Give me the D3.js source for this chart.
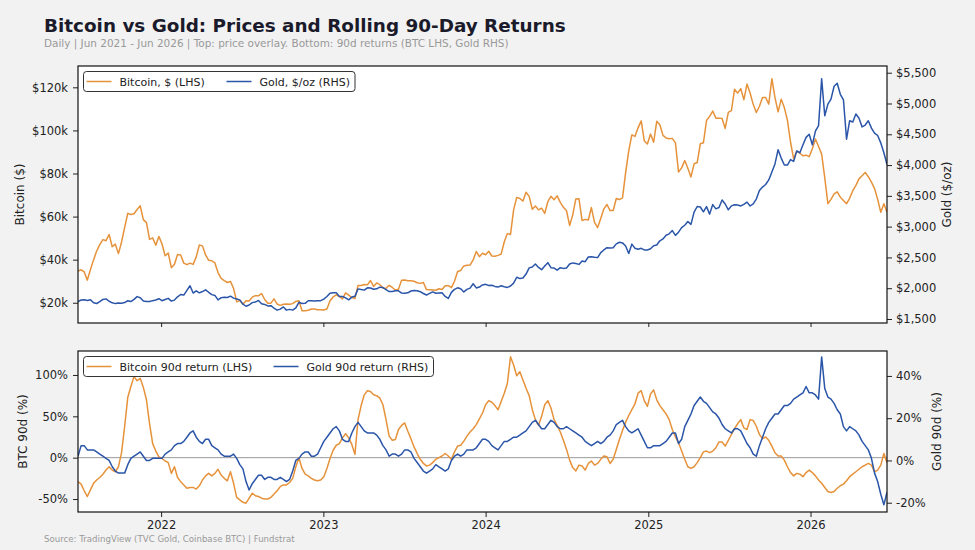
<!DOCTYPE html>
<html><head><meta charset="utf-8">
<script src="https://cdn.jsdelivr.net/npm/d3@7"></script>
<style>
body{margin:0;background:#f2f2f2;}
svg{display:block;font-family:"DejaVu Sans",sans-serif;}
</style></head><body>
<svg id="c" width="975" height="550"></svg>
<script>
// ---------------- DATA (weekly samples) ----------------
const startDate = "2021-06-28";   // first weekly sample, step = 7 days
const btcPriceK = [
34.7,35.3,34.3,30.5,35.4,39.9,44.0,47.0,49.3,48.8,51.7,46.0,47.2,42.8,48.2,55.0,61.5,61.0,61.3,63.3,65.0,58.6,57.2,49.4,50.1,46.7,50.8,
47.3,41.8,43.1,36.3,37.9,42.4,42.2,38.4,37.7,38.4,37.8,41.3,46.8,46.4,42.2,39.7,39.5,38.5,34.0,31.3,30.3,29.4,29.9,26.6,20.5,21.0,19.3,20.9,20.8,22.6,23.3,23.2,24.3,21.5,19.8,19.8,21.8,19.4,18.8,19.3,19.4,19.3,19.6,20.6,20.9,16.3,16.3,16.5,17.1,17.1,16.8,16.8,
16.6,17.1,20.9,22.7,23.7,22.9,21.8,24.6,23.5,22.4,22.0,28.0,28.0,28.5,28.3,30.3,27.6,29.2,28.4,26.9,26.7,28.1,27.1,25.9,26.3,30.5,30.6,30.2,30.2,30.0,29.3,29.0,29.4,26.1,26.0,25.9,25.8,26.5,26.2,27.9,27.9,27.0,30.0,34.5,35.0,37.1,37.4,37.5,39.9,43.8,41.4,43.0,42.3,
43.9,41.7,41.6,42.0,42.6,48.3,52.1,51.7,63.1,68.9,68.4,67.2,71.3,69.4,63.4,64.9,63.1,63.9,61.5,66.9,69.4,67.8,69.6,66.6,64.3,62.7,55.9,60.8,68.2,68.3,58.2,58.7,58.4,64.2,57.3,54.9,59.1,63.6,65.6,62.8,62.8,68.4,67.9,68.7,80.4,90.5,97.9,97.2,101.2,104.4,95.1,93.7,
98.3,94.5,104.2,102.6,97.7,96.5,96.1,96.3,94.2,80.7,82.6,86.0,82.4,78.4,84.5,85.1,93.8,94.3,104.6,106.5,109.0,105.7,105.7,105.5,100.9,108.4,109.2,119.1,117.3,119.4,114.2,121.5,117.4,112.1,108.3,111.2,115.3,115.3,112.2,124.0,115.2,108.6,114.5,110.6,104.7,94.5,86.8,90.4,89.4,88.2,88.5,87.8,
91.5,96.0,92.5,89.0,78.0,66.0,68.0,70.5,71.5,69.0,67.5,66.0,68.5,72.0,74.5,77.5,79.0,80.5,78.5,76.0,73.0,68.0,62.0,66.0,62.0
];
const goldPrice = [
1781,1808,1812,1802,1814,1763,1752,1781,1818,1827,1788,1763,1750,1761,1757,1767,1796,1783,1818,1864,1846,1792,1783,1784,1798,1808,1829,
1797,1817,1835,1791,1807,1860,1898,1889,1966,2040,1921,1958,1925,1946,1974,1934,1896,1883,1811,1846,1853,1850,1871,1839,1826,1811,1742,1707,1727,1766,1775,1802,1747,1737,1712,1716,1675,1644,1660,1695,1644,1656,1644,1681,1771,1751,1754,1797,1797,1793,1798,1798,
1824,1865,1920,1926,1928,1865,1865,1842,1811,1856,1868,1989,1978,1969,2007,2004,1983,1990,2017,2011,1978,1946,1948,1960,1958,1921,1919,1925,1955,1962,1959,1943,1914,1889,1915,1940,1919,1924,1925,1866,1833,1932,1981,2006,1992,1940,1981,2002,2072,2005,2019,2053,2063,
2045,2049,2029,2018,2039,2024,2013,2035,2083,2178,2156,2165,2230,2330,2344,2392,2338,2301,2360,2415,2334,2327,2293,2333,2322,2327,2392,2411,2400,2387,2443,2431,2507,2512,2503,2497,2577,2621,2658,2653,2657,2720,2747,2736,2685,2563,2716,2650,2633,2648,2622,2621,
2640,2690,2702,2770,2800,2861,2883,2936,2858,2910,2984,3023,3084,3037,3236,3327,3319,3241,3325,3203,3358,3289,3310,3432,3368,3274,3337,3355,3350,3336,3363,3398,3335,3371,3447,3587,3643,3685,3759,3886,4018,4250,4113,4002,4000,4090,4060,4230,4200,4330,4450,4500,
4330,4550,4640,5400,4800,4990,5070,5280,5330,5150,5060,4420,4720,4700,4830,4760,4620,4650,4720,4600,4520,4480,4360,4200,4010
];
const btcRet90 = [
-29,-32,-40,-47,-39,-31,-27,-24,-20,-15,
-11,-15,-17,-11,6,38,73,86,98,93,
96,85,70,41,17,8,1,-1,-4,-6,
-19,-11,-24,-29,-33,-37,-36,-36,-38,-34,
-27,-22,-19,-22,-19,-14,-21,-25,-28,-17,
-31,-48,-51,-54,-55,-49,-43,-46,-47,-49,
-50,-50,-48,-44,-40,-35,-33,-33,-30,-25,
-11,0,-13,-20,-22,-25,-27,-28,-27,-23,
-13,-1,9,15,17,24,29,24,16,4,
46,63,76,81,80,76,75,72,64,46,
26,21,22,34,39,42,32,23,13,5,
-2,-7,-10,-9,-6,-2,0,2,5,2,
-2,7,14,15,20,26,31,35,40,47,
54,64,69,67,63,58,68,78,90,122,
112,99,104,94,84,75,58,46,39,50,
64,69,60,46,39,31,21,10,-3,-12,
-16,-9,-10,-15,-7,-4,-9,-7,-2,2,
1,-7,-2,10,22,33,43,51,58,65,
78,81,69,62,77,82,70,63,58,53,
46,34,25,18,8,-2,-11,-13,-11,-6,
0,7,8,6,8,12,19,19,14,21,
28,35,41,46,36,34,46,45,38,28,
23,25,21,14,6,2,2,-3,-11,-18,
-22,-19,-20,-23,-18,-15,-18,-22,-27,-31,
-36,-41,-42,-41,-37,-34,-32,-28,-23,-20,
-17,-14,-11,-9,-7,-9,-17,-15,-9,5,-6
];
const goldRet90 = [
2,7,7,5,5,5,4,3,2,1,
0,-3,-5,-6,-6,-6,-2,1,2,3,
4,2,0,0,1,1,1,1,3,4,
5,7,8,8,9,11,13,14,11,9,
8,10,10,7,6,5,3,2,2,2,
3,1,-2,-4,-10,-14,-11,-9,-7,-7,
-9,-8,-8,-9,-9,-8,-9,-10,-9,-5,
0,1,3,4,4,2,2,3,6,9,
11,13,15,16,14,10,9,9,13,16,
18,16,14,13,13,13,12,10,7,5,
2,3,3,2,3,5,5,4,1,-1,
-3,-5,-6,-5,-4,-2,-3,-4,-5,-4,
0,2,3,2,3,5,5,5,6,8,
10,10,9,7,6,5,7,9,9,10,
11,11,12,13,14,16,18,19,17,15,
15,17,19,18,16,15,15,16,15,14,
13,12,11,9,8,7,8,9,8,9,
11,12,14,17,18,19,16,14,13,14,
15,12,9,6,6,7,7,7,8,9,
11,13,13,8,10,16,19,22,26,28,
30,28,27,25,23,22,20,17,15,14,
13,15,15,14,11,8,6,3,2,7,
11,15,18,20,22,22,24,26,26,27,
29,30,31,32,35,32,32,31,29,49,
34,30,29,27,24,22,16,14,16,15,
14,12,9,7,5,1,-6,-10,-16,-21,-15
];
const yearTicks = ["2022-01-01","2023-01-01","2024-01-01","2025-01-01","2026-01-01"];
const btcPriceTicks = [20,40,60,80,100,120];
const goldPriceTicks = [1500,2000,2500,3000,3500,4000,4500,5000,5500];
const btcRetTicks = [-50,0,50,100];
const goldRetTicks = [-20,0,20,40];

// ---------------- STYLE / LAYOUT ----------------
const C_BTC = "#e6923a", C_GOLD = "#2a55a8";
const L = 78, R = 887;
const P1 = {t:66, b:323}, P2 = {t:351, b:512};
const svg = d3.select("#c");
svg.append("rect").attr("width",975).attr("height",550).attr("fill","#f2f2f2");

const parse = d3.utcParse("%Y-%m-%d");
const t0 = parse(startDate);
const dates = btcPriceK.map((_, i) => d3.utcDay.offset(t0, 7 * i));

const x = d3.scaleUtc().domain([dates[0], dates[dates.length - 1]]).range([L, R]);
const yBtc = d3.scaleLinear().domain([10.6, 129.9]).range([P1.b, P1.t]);
const yGold = d3.scaleLinear().domain([1435, 5609]).range([P1.b, P1.t]);
const yBtcR = d3.scaleLinear().domain([-65.7, 129]).range([P2.b, P2.t]);
const yGoldR = d3.scaleLinear().domain([-24.4, 51.8]).range([P2.b, P2.t]);

// plot backgrounds + clips
[P1, P2].forEach((p, k) => {
  svg.append("rect").attr("x", L).attr("y", p.t).attr("width", R - L).attr("height", p.b - p.t).attr("fill", "#fff");
  svg.append("clipPath").attr("id", "clip" + k).append("rect")
    .attr("x", L).attr("y", p.t).attr("width", R - L).attr("height", p.b - p.t);
});

// zero line bottom
svg.append("line").attr("x1", L).attr("x2", R).attr("y1", yBtcR(0)).attr("y2", yBtcR(0))
  .attr("stroke", "#9a9a9a").attr("stroke-width", 1);

function drawLine(vals, y, color, clip) {
  const line = d3.line().x((d, i) => x(dates[i])).y(d => y(d));
  svg.append("path").datum(vals).attr("d", line).attr("fill", "none")
    .attr("stroke", color).attr("stroke-width", 1.5).attr("stroke-linejoin", "round")
    .attr("clip-path", `url(#${clip})`);
}
drawLine(btcPriceK, yBtc, C_BTC, "clip0");
drawLine(goldPrice, yGold, C_GOLD, "clip0");
drawLine(btcRet90, yBtcR, C_BTC, "clip1");
drawLine(goldRet90, yGoldR, C_GOLD, "clip1");

// axes
function styleAxis(g) {
  g.select(".domain").remove();
  g.selectAll(".tick line").attr("stroke", "#222").attr("stroke-width", 1);
  g.selectAll(".tick text").attr("fill", "#222").style("font-size", "11.5px").style("font-family", "DejaVu Sans");
}
const fmtBtc = v => "$" + v + "k";
const fmtGold = v => "$" + d3.format(",")(v);
const fmtPct = v => v + "%";
svg.append("g").attr("transform", `translate(${L},0)`)
  .call(d3.axisLeft(yBtc).tickValues(btcPriceTicks).tickFormat(fmtBtc).tickSize(5).tickPadding(5)).call(styleAxis);
svg.append("g").attr("transform", `translate(${R},0)`)
  .call(d3.axisRight(yGold).tickValues(goldPriceTicks).tickFormat(fmtGold).tickSize(5).tickPadding(4)).call(styleAxis);
svg.append("g").attr("transform", `translate(${L},0)`)
  .call(d3.axisLeft(yBtcR).tickValues(btcRetTicks).tickFormat(fmtPct).tickSize(5).tickPadding(5)).call(styleAxis);
svg.append("g").attr("transform", `translate(${R},0)`)
  .call(d3.axisRight(yGoldR).tickValues(goldRetTicks).tickFormat(fmtPct).tickSize(5).tickPadding(4)).call(styleAxis);
const yt = yearTicks.map(parse);
svg.append("g").attr("transform", `translate(0,${P2.b})`)
  .call(d3.axisBottom(x).tickValues(yt).tickFormat(d3.utcFormat("%Y")).tickSize(5).tickPadding(4)).call(styleAxis);
svg.append("g").attr("transform", `translate(0,${P1.b})`)
  .call(d3.axisBottom(x).tickValues(yt).tickFormat("").tickSize(4)).call(styleAxis);

// frames
[P1, P2].forEach(p => {
  svg.append("rect").attr("x", L).attr("y", p.t).attr("width", R - L).attr("height", p.b - p.t)
    .attr("fill", "none").attr("stroke", "#111").attr("stroke-width", 1.2);
});

// axis labels
function vlabel(txt, cx, cy) {
  svg.append("text").attr("transform", `translate(${cx},${cy}) rotate(-90)`)
    .attr("text-anchor", "middle").attr("dominant-baseline", "central")
    .style("font-size", "12px").attr("fill", "#222").text(txt);
}
vlabel("Bitcoin ($)", 20, (P1.t + P1.b) / 2);
vlabel("Gold ($/oz)", 947, (P1.t + P1.b) / 2);
vlabel("BTC 90d (%)", 23, (P2.t + P2.b) / 2);
vlabel("Gold 90d (%)", 937, (P2.t + P2.b) / 2);

// legends
function legend(x0, y0, w, items) {
  const g = svg.append("g");
  g.append("rect").attr("x", x0).attr("y", y0).attr("width", w).attr("height", 20).attr("rx", 3)
    .attr("fill", "#fff").attr("fill-opacity", 0.9).attr("stroke", "#333").attr("stroke-width", 1);
  items.forEach(it => {
    g.append("line").attr("x1", it.lx).attr("x2", it.lx + 25).attr("y1", y0 + 10).attr("y2", y0 + 10)
      .attr("stroke", it.c).attr("stroke-width", 1.5);
    g.append("text").attr("x", it.lx + 33).attr("y", y0 + 14).style("font-size", "11px").attr("fill", "#222").text(it.t);
  });
}
legend(83.5, 71.5, 271.5, [{lx:86.5, c:C_BTC, t:"Bitcoin, $ (LHS)"}, {lx:226.5, c:C_GOLD, t:"Gold, $/oz (RHS)"}]);
legend(83.5, 356.5, 350, [{lx:86.5, c:C_BTC, t:"Bitcoin 90d return (LHS)"}, {lx:273.5, c:C_GOLD, t:"Gold 90d return (RHS)"}]);

// titles
function fitText(sel, target) {
  const n = sel.node(); const s = parseFloat(sel.style("font-size"));
  const len = n.getComputedTextLength();
  sel.style("font-size", (s * target / len) + "px");
}
const title = svg.append("text").attr("x", 44).attr("y", 32).style("font-size", "19px").style("font-weight", "bold")
  .attr("fill", "#1a1a2a").text("Bitcoin vs Gold: Prices and Rolling 90-Day Returns");
fitText(title, 522);
const sub = svg.append("text").attr("x", 44).attr("y", 46.5).style("font-size", "10px").attr("fill", "#999")
  .text("Daily | Jun 2021 - Jun 2026 | Top: price overlay. Bottom: 90d returns (BTC LHS, Gold RHS)");
fitText(sub, 465);
const src = svg.append("text").attr("x", 44).attr("y", 542).style("font-size", "8px").attr("fill", "#999")
  .text("Source: TradingView (TVC Gold, Coinbase BTC) | Fundstrat");
fitText(src, 251);
</script>
</body></html>
